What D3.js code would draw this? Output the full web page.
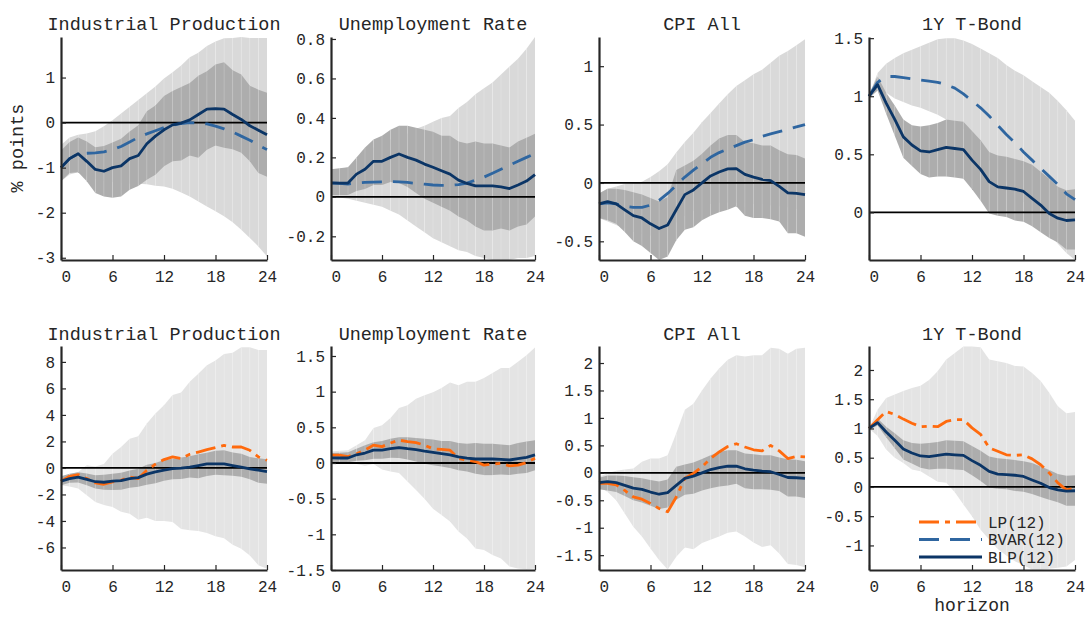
<!DOCTYPE html>
<html>
<head>
<meta charset="utf-8">
<script src="https://cdn.jsdelivr.net/npm/d3@7"></script>
<style>
  body { margin: 0; background: #fff; }
  text { font-family: "Liberation Mono", "DejaVu Sans Mono", monospace; fill: #262626; }
</style>
</head>
<body>
<svg id="chart" width="1086" height="617"></svg>
<script>
// Impulse responses over a 24-month horizon, % points
const horizon = [0,1,2,3,4,5,6,7,8,9,10,11,12,13,14,15,16,17,18,19,20,21,22,23,24];
const xTicks = [0, 6, 12, 18, 24];
const titles = ["Industrial Production", "Unemployment Rate", "CPI All", "1Y T-Bond"];
const legendLabels = ["LP(12)", "BVAR(12)", "BLP(12)"];

// BLP(12): point estimate and band
const ipBLP   = [-1.0,-0.8,-0.69,-0.86,-1.04,-1.08,-1.0,-0.96,-0.8,-0.73,-0.47,-0.3,-0.16,-0.05,-0.01,0.06,0.18,0.3,0.31,0.3,0.18,0.07,-0.07,-0.17,-0.27];
const ipBLPlo = [-1.3,-1.12,-1.1,-1.3,-1.56,-1.64,-1.67,-1.64,-1.49,-1.41,-1.27,-1.16,-0.97,-0.86,-0.84,-0.73,-0.78,-0.6,-0.51,-0.56,-0.59,-0.67,-0.86,-1.12,-1.2];
const ipBLPhi = [-0.62,-0.43,-0.33,-0.42,-0.55,-0.52,-0.44,-0.36,-0.2,-0.06,0.25,0.38,0.59,0.7,0.79,0.88,1.04,1.14,1.29,1.34,1.16,1.07,0.82,0.73,0.66];
const unBLP   = [0.071,0.07,0.07,0.115,0.14,0.18,0.18,0.2,0.217,0.2,0.186,0.166,0.15,0.132,0.115,0.085,0.068,0.056,0.056,0.056,0.05,0.042,0.06,0.08,0.113];
const unBLPlo = [0.01,0.01,0.01,0.03,0.04,0.06,0.06,0.075,0.07,0.05,0.02,-0.01,-0.03,-0.05,-0.07,-0.1,-0.12,-0.15,-0.17,-0.17,-0.16,-0.17,-0.15,-0.14,-0.1];
const unBLPhi = [0.14,0.145,0.15,0.2,0.25,0.29,0.31,0.34,0.36,0.36,0.35,0.34,0.33,0.31,0.31,0.28,0.27,0.28,0.27,0.27,0.26,0.25,0.28,0.3,0.32];
const cpiBLP   = [-0.18,-0.16,-0.18,-0.23,-0.28,-0.3,-0.35,-0.39,-0.36,-0.23,-0.1,-0.06,0,0.06,0.094,0.12,0.123,0.074,0.05,0.03,0.02,-0.03,-0.085,-0.09,-0.1];
const cpiBLPlo = [-0.3,-0.32,-0.35,-0.42,-0.5,-0.54,-0.6,-0.66,-0.63,-0.49,-0.4,-0.38,-0.32,-0.28,-0.25,-0.23,-0.2,-0.28,-0.3,-0.3,-0.31,-0.33,-0.43,-0.43,-0.46];
const cpiBLPhi = [-0.09,-0.05,-0.05,-0.06,-0.08,-0.1,-0.13,-0.16,-0.12,0.11,0.15,0.19,0.25,0.32,0.38,0.41,0.41,0.35,0.34,0.32,0.32,0.28,0.245,0.24,0.21];
const tbBLP   = [1.0,1.1,0.94,0.8,0.65,0.58,0.53,0.52,0.54,0.56,0.55,0.54,0.45,0.37,0.265,0.22,0.21,0.2,0.18,0.12,0.063,-0.01,-0.05,-0.07,-0.065];
const tbBLPlo = [0.98,1.05,0.85,0.66,0.47,0.4,0.33,0.3,0.31,0.31,0.3,0.29,0.2,0.1,-0.01,-0.03,-0.04,-0.07,-0.08,-0.12,-0.17,-0.22,-0.26,-0.32,-0.32];
const tbBLPhi = [1.02,1.17,1.03,0.92,0.8,0.75,0.74,0.75,0.77,0.8,0.79,0.78,0.7,0.62,0.52,0.49,0.48,0.46,0.44,0.41,0.35,0.29,0.22,0.19,0.2];

// BVAR(12): point estimate and band
const ipBVAR   = [-1.0,-0.8,-0.69,-0.68,-0.67,-0.65,-0.6,-0.53,-0.43,-0.33,-0.25,-0.18,-0.11,-0.06,-0.02,0,-0.01,-0.03,-0.08,-0.14,-0.21,-0.3,-0.39,-0.5,-0.6];
const ipBVARlo = [-1.3,-1.15,-1.1,-1.2,-1.25,-1.3,-1.32,-1.34,-1.35,-1.36,-1.37,-1.4,-1.42,-1.47,-1.55,-1.64,-1.75,-1.86,-1.97,-2.08,-2.21,-2.38,-2.56,-2.75,-2.97];
const ipBVARhi = [-0.5,-0.33,-0.27,-0.24,-0.19,-0.08,0.05,0.2,0.35,0.5,0.65,0.8,0.98,1.12,1.27,1.45,1.55,1.7,1.8,1.87,1.88,1.9,1.88,1.88,1.88];
const unBVAR   = [0.07,0.068,0.065,0.07,0.073,0.075,0.076,0.077,0.076,0.073,0.068,0.064,0.06,0.058,0.058,0.062,0.07,0.085,0.1,0.12,0.14,0.16,0.18,0.2,0.22];
const unBVARlo = [0,-0.003,-0.01,-0.02,-0.03,-0.04,-0.05,-0.07,-0.09,-0.12,-0.15,-0.18,-0.21,-0.23,-0.25,-0.27,-0.28,-0.3,-0.31,-0.32,-0.32,-0.32,-0.31,-0.31,-0.3];
const unBVARhi = [0.14,0.14,0.15,0.18,0.22,0.25,0.27,0.29,0.31,0.32,0.345,0.36,0.38,0.4,0.41,0.45,0.48,0.52,0.55,0.58,0.62,0.66,0.7,0.75,0.81];
const cpiBVAR   = [-0.18,-0.17,-0.18,-0.2,-0.21,-0.21,-0.19,-0.15,-0.09,-0.02,0.05,0.11,0.165,0.22,0.26,0.29,0.32,0.35,0.37,0.4,0.42,0.44,0.46,0.48,0.5];
const cpiBVARlo = [-0.3,-0.33,-0.36,-0.39,-0.42,-0.44,-0.45,-0.43,-0.4,-0.34,-0.28,-0.24,-0.2,-0.18,-0.17,-0.17,-0.17,-0.17,-0.18,-0.18,-0.19,-0.2,-0.21,-0.22,-0.23];
const cpiBVARhi = [-0.09,-0.05,-0.03,-0.01,0,0.01,0.05,0.1,0.16,0.26,0.35,0.43,0.52,0.6,0.68,0.76,0.83,0.88,0.93,0.97,1.03,1.09,1.13,1.18,1.23];
const tbBVAR   = [1.0,1.12,1.17,1.17,1.16,1.15,1.14,1.13,1.12,1.1,1.07,1.02,0.96,0.9,0.83,0.75,0.67,0.6,0.52,0.45,0.38,0.31,0.24,0.16,0.11];
const tbBVARlo = [1.0,1.1,1.03,0.98,0.95,0.92,0.9,0.87,0.84,0.8,0.78,0.72,0.63,0.54,0.45,0.36,0.27,0.18,0.09,0,-0.09,-0.18,-0.27,-0.35,-0.41];
const tbBVARhi = [1.0,1.2,1.28,1.33,1.37,1.4,1.43,1.46,1.49,1.5,1.5,1.48,1.45,1.41,1.37,1.33,1.27,1.22,1.18,1.13,1.08,1.03,0.96,0.88,0.79];

// LP(12): point estimate and band
const ipLP   = [-1.0,-0.63,-0.5,-0.8,-1.13,-1.23,-1.05,-0.93,-0.68,-0.8,-0.18,0.28,0.63,0.83,0.7,1.03,1.2,1.38,1.53,1.7,1.58,1.58,1.33,0.83,0.58];
const ipLPlo = [-1.3,-1.4,-1.55,-2.06,-2.57,-2.8,-2.95,-3.3,-3.45,-3.9,-3.75,-4.0,-4.0,-4.07,-4.6,-4.7,-4.75,-4.9,-5.15,-5.3,-5.8,-6.1,-6.6,-7.35,-7.6];
const ipLPhi = [-0.7,-0.5,-0.3,0.2,0.1,0.3,1.08,1.58,2.2,2.4,3.35,4.1,4.73,5.5,5.7,6.5,7.1,7.75,8.1,8.6,8.7,9.1,9.1,8.9,8.9];
const unLP   = [0.11,0.11,0.09,0.13,0.18,0.25,0.23,0.28,0.32,0.3,0.285,0.25,0.2,0.19,0.18,0.065,0.04,0.02,-0.03,-0.015,-0.005,-0.04,-0.03,0.005,0.065];
const unLPlo = [0.02,0.0,0.0,-0.015,-0.04,-0.015,-0.09,-0.12,-0.14,-0.26,-0.38,-0.5,-0.64,-0.73,-0.82,-0.96,-1.06,-1.2,-1.22,-1.29,-1.34,-1.45,-1.48,-1.49,-1.48];
const unLPhi = [0.16,0.17,0.18,0.25,0.32,0.49,0.53,0.63,0.77,0.81,0.9,0.95,0.99,1.05,1.13,1.09,1.14,1.14,1.19,1.26,1.33,1.33,1.42,1.51,1.62];
const cpiLP   = [-0.19,-0.19,-0.22,-0.32,-0.44,-0.48,-0.56,-0.65,-0.71,-0.44,-0.1,-0.01,0.11,0.26,0.38,0.48,0.53,0.47,0.42,0.4,0.5,0.4,0.26,0.3,0.29];
const cpiLPlo = [-0.25,-0.35,-0.5,-0.74,-0.98,-1.16,-1.38,-1.59,-1.76,-1.53,-1.36,-1.39,-1.28,-1.22,-1.16,-1.09,-1.07,-1.16,-1.27,-1.35,-1.32,-1.47,-1.66,-1.68,-1.72];
const cpiLPhi = [-0.07,-0.01,0.04,0.06,0.08,0.2,0.26,0.26,0.32,0.72,1.15,1.26,1.5,1.72,1.9,2.06,2.14,2.12,2.14,2.14,2.28,2.26,2.17,2.26,2.28];
const tbLP   = [1.0,1.15,1.29,1.24,1.16,1.09,1.03,1.04,1.03,1.12,1.15,1.15,1.01,0.9,0.67,0.61,0.55,0.54,0.55,0.48,0.38,0.24,0.07,-0.05,-0.02];
const tbLPlo = [1.0,0.87,0.64,0.5,0.41,0.3,0.27,0.18,0.09,0.07,-0.09,-0.3,-0.5,-0.73,-0.9,-1.06,-1.17,-1.27,-1.34,-1.41,-1.41,-1.4,-1.38,-1.36,-1.25];
const tbLPhi = [1.0,1.32,1.52,1.58,1.64,1.69,1.73,1.83,1.98,2.18,2.29,2.4,2.4,2.39,2.18,2.15,2.12,2.07,2.06,1.95,1.81,1.61,1.38,1.26,1.28];

// axis ranges and ticks
const topDomains    = [[-3.05, 1.9], [-0.32, 0.81], [-0.66, 1.25], [-0.41, 1.51]];
const bottomDomains = [[-7.7, 9.2], [-1.5, 1.64], [-1.77, 2.31], [-1.42, 2.41]];
const topTicks    = [[-3,-2,-1,0,1], [-0.2,0,0.2,0.4,0.6,0.8], [-0.5,0,0.5,1], [0,0.5,1,1.5]];
const bottomTicks = [[-6,-4,-2,0,2,4,6,8], [-1.5,-1,-0.5,0,0.5,1,1.5], [-1.5,-1,-0.5,0,0.5,1,1.5,2], [-1,-0.5,0,0.5,1,1.5,2]];

const colors = {
  bandBVAR: "#d9d9d9",
  bandLP: "#e4e4e4",
  bandBLP: "#adadad",
  blp: "#0b3566",
  bvar: "#2f66a0",
  lp: "#ff6a0d",
  axis: "#262626"
};
const styles = {
  LP:   { color: colors.lp,   dash: "20,6,5,6" },
  BVAR: { color: colors.bvar, dash: "20,11" },
  BLP:  { color: colors.blp,  dash: null }
};

const svg = d3.select("#chart");
const colLeft = [61, 331, 599, 869];
const colWidth = [206, 204, 206, 206];
const rowTop = [37, 346];
const plotH = [223, 224];

function drawPanel(row, col, spec) {
  const w = colWidth[col], h = plotH[row];
  const g = svg.append("g").attr("transform", `translate(${colLeft[col]},${rowTop[row]})`);
  const x = d3.scaleLinear().domain([0, 24]).range([0, w]);
  const y = d3.scaleLinear().domain(spec.domain).range([h, 0]);

  // bands, one quad per horizon step
  spec.bands.forEach(b => {
    const area = d3.area()
      .x(i => x(horizon[i]))
      .y0(i => y(b.lo[i]))
      .y1(i => y(b.hi[i]));
    const bg = g.append("g");
    for (let i = 0; i < horizon.length - 1; i++) {
      bg.append("path").attr("d", area([i, i + 1])).attr("fill", b.fill);
    }
    // faint seams at each horizon
    for (let i = 1; i < horizon.length - 1; i++) {
      bg.append("line")
        .attr("x1", x(horizon[i])).attr("x2", x(horizon[i]))
        .attr("y1", y(b.lo[i])).attr("y2", y(b.hi[i]))
        .attr("stroke", "#fff").attr("stroke-opacity", 0.2).attr("stroke-width", 0.8);
    }
  });

  // zero line
  g.append("line").attr("x1", 0).attr("x2", w).attr("y1", y(0)).attr("y2", y(0))
    .attr("stroke", "#000").attr("stroke-width", 1.8);

  // response lines
  spec.lines.forEach(l => {
    const st = styles[l.kind];
    g.append("path")
      .datum(horizon.map((hh, i) => [hh, l.values[i]]))
      .attr("d", d3.line().x(d => x(d[0])).y(d => y(d[1])))
      .attr("fill", "none")
      .attr("stroke", st.color)
      .attr("stroke-width", 2.8)
      .attr("stroke-linejoin", "round")
      .attr("stroke-dasharray", st.dash);
  });

  // axes
  const ya = g.append("g").call(
    d3.axisLeft(y).tickValues(spec.ticks).tickSize(-5).tickSizeOuter(0).tickPadding(6)
      .tickFormat(v => String(v)));
  const xa = g.append("g").attr("transform", `translate(0,${h})`).call(
    d3.axisBottom(x).tickValues(xTicks).tickSize(-5).tickSizeOuter(0).tickPadding(11));
  [ya, xa].forEach(a => {
    a.select(".domain").attr("stroke", colors.axis).attr("stroke-width", 2.2);
    a.selectAll(".tick line").attr("stroke", colors.axis).attr("stroke-width", 1.2);
    a.selectAll(".tick text").style("font-family", '"Liberation Mono", monospace')
      .style("font-size", "16px").attr("fill", "#333");
  });
  xa.selectAll(".tick text").filter(d => d === 0).attr("dx", "0.3em");

  // title
  g.append("text").attr("x", w / 2).attr("y", row === 0 ? -7 : -6)
    .attr("text-anchor", "middle").style("font-size", "18.5px").text(titles[col]);

  return { g, x, y, w, h };
}

const topSeries = [
  { blp: [ipBLP, ipBLPlo, ipBLPhi], bvar: [ipBVAR, ipBVARlo, ipBVARhi] },
  { blp: [unBLP, unBLPlo, unBLPhi], bvar: [unBVAR, unBVARlo, unBVARhi] },
  { blp: [cpiBLP, cpiBLPlo, cpiBLPhi], bvar: [cpiBVAR, cpiBVARlo, cpiBVARhi] },
  { blp: [tbBLP, tbBLPlo, tbBLPhi], bvar: [tbBVAR, tbBVARlo, tbBVARhi] }
];
const bottomSeries = [
  { blp: [ipBLP, ipBLPlo, ipBLPhi], lp: [ipLP, ipLPlo, ipLPhi] },
  { blp: [unBLP, unBLPlo, unBLPhi], lp: [unLP, unLPlo, unLPhi] },
  { blp: [cpiBLP, cpiBLPlo, cpiBLPhi], lp: [cpiLP, cpiLPlo, cpiLPhi] },
  { blp: [tbBLP, tbBLPlo, tbBLPhi], lp: [tbLP, tbLPlo, tbLPhi] }
];

// top row: BVAR vs BLP
topSeries.forEach((s, c) => {
  drawPanel(0, c, {
    domain: topDomains[c], ticks: topTicks[c],
    bands: [
      { lo: s.bvar[1], hi: s.bvar[2], fill: colors.bandBVAR },
      { lo: s.blp[1], hi: s.blp[2], fill: colors.bandBLP }
    ],
    lines: [{ kind: "BVAR", values: s.bvar[0] }, { kind: "BLP", values: s.blp[0] }]
  });
});

// bottom row: LP vs BLP
let lastPanel;
bottomSeries.forEach((s, c) => {
  lastPanel = drawPanel(1, c, {
    domain: bottomDomains[c], ticks: bottomTicks[c],
    bands: [
      { lo: s.lp[1], hi: s.lp[2], fill: colors.bandLP },
      { lo: s.blp[1], hi: s.blp[2], fill: colors.bandBLP }
    ],
    lines: [{ kind: "LP", values: s.lp[0] }, { kind: "BLP", values: s.blp[0] }]
  });
});

// legend inside the last panel
const legend = lastPanel.g.append("g").attr("transform", "translate(50,176)");
["LP", "BVAR", "BLP"].forEach((k, i) => {
  const st = styles[k];
  legend.append("line").attr("x1", 0).attr("x2", 63).attr("y1", i * 17.5).attr("y2", i * 17.5)
    .attr("stroke", st.color).attr("stroke-width", 2.8).attr("stroke-dasharray", st.dash);
  legend.append("text").attr("x", 69).attr("y", i * 17.5).attr("dy", "0.35em")
    .style("font-size", "16px").text(legendLabels[i]);
});

// axis labels
lastPanel.g.append("text").attr("x", lastPanel.w / 2).attr("y", lastPanel.h + 41)
  .attr("text-anchor", "middle").style("font-size", "18px").text("horizon");
svg.append("text").attr("transform", "translate(23,148) rotate(-90)")
  .attr("text-anchor", "middle").style("font-size", "18.5px").text("% points");
</script>
</body>
</html>
